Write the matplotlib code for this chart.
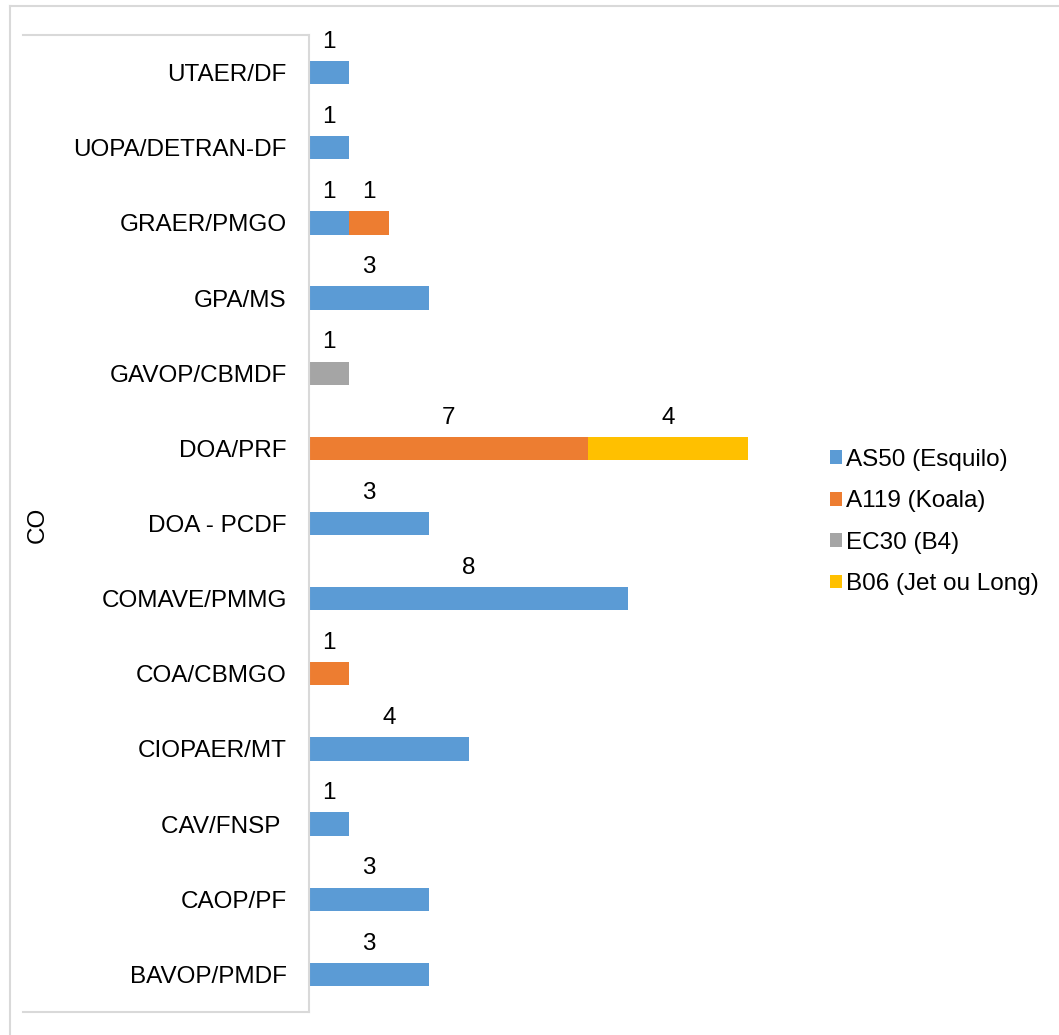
import matplotlib.pyplot as plt
import numpy as np
from matplotlib.patches import Patch
from matplotlib.lines import Line2D

plt.rcParams['font.family'] = ['Liberation Sans', 'DejaVu Sans']

# unidades, de baixo para cima
unidades = ['BAVOP/PMDF', 'CAOP/PF', 'CAV/FNSP ', 'CIOPAER/MT', 'COA/CBMGO',
            'COMAVE/PMMG', 'DOA - PCDF', 'DOA/PRF', 'GAVOP/CBMDF', 'GPA/MS',
            'GRAER/PMGO', 'UOPA/DETRAN-DF', 'UTAER/DF']

as50 = [3, 3, 1, 4, 0, 8, 3, 0, 0, 3, 1, 1, 1]
a119 = [0, 0, 0, 0, 1, 0, 0, 7, 0, 0, 1, 0, 0]
ec30 = [0, 0, 0, 0, 0, 0, 0, 0, 1, 0, 0, 0, 0]
b06 = [0, 0, 0, 0, 0, 0, 0, 4, 0, 0, 0, 0, 0]

series = [
    ('AS50 (Esquilo)', as50, '#5B9BD5'),
    ('A119 (Koala)', a119, '#ED7D31'),
    ('EC30 (B4)', ec30, '#A5A5A5'),
    ('B06 (Jet ou Long)', b06, '#FFC000'),
]

fig = plt.figure(figsize=(10.59, 10.35), dpi=100)
ax = fig.add_axes([309 / 1059, 1 - 1012 / 1035, 479 / 1059, 977 / 1035])

y = np.arange(len(unidades))
esquerda = np.zeros(len(unidades))
handles = []
for nome, vals, cor in series:
    vals = np.array(vals, dtype=float)
    ax.barh(y, vals, left=esquerda, height=0.31, color=cor)
    for i, v in enumerate(vals):
        if v > 0:
            ax.text(esquerda[i] + v / 2, y[i] + 0.41, f'{int(v)}',
                    ha='center', va='center', fontsize=17.5)
    esquerda += vals
    handles.append(Patch(facecolor=cor, label=nome))

ax.set_xlim(0, 12)
ax.set_ylim(-0.5, len(unidades) - 0.5)
ax.set_yticks(y)
ax.set_yticklabels(unidades, fontsize=17.5)
ax.tick_params(axis='y', length=0, pad=16)
ax.set_xticks([])
for s in ['top', 'right', 'bottom']:
    ax.spines[s].set_visible(False)
ax.spines['left'].set_color('#D9D9D9')
ax.spines['left'].set_linewidth(1.5)

fig.text(38 / 1059, 1 - 525 / 1035, 'CO', rotation=90,
         ha='center', va='center', fontsize=17.5)

fig.legend(handles=handles, loc='center left',
           bbox_to_anchor=(830 / 1059, 1 - 522 / 1035),
           frameon=False, fontsize=17.5, borderpad=0, borderaxespad=0,
           handlelength=0.5, handleheight=0.5, handletextpad=0.15,
           labelspacing=0.8)

# molduras cinza
cinza = '#D9D9D9'
W, H = 1059, 1035
linhas = [
    ((10, 1058), (6, 6)),
    ((10, 10), (6, 1035)),
    ((23, 309), (35, 35)),
    ((23, 309), (1012, 1012)),
]
for xs, ys in linhas:
    fig.add_artist(Line2D([x / W for x in xs], [1 - v / H for v in ys],
                          color=cinza, linewidth=1.5))

fig.savefig('out.png', dpi=100)
